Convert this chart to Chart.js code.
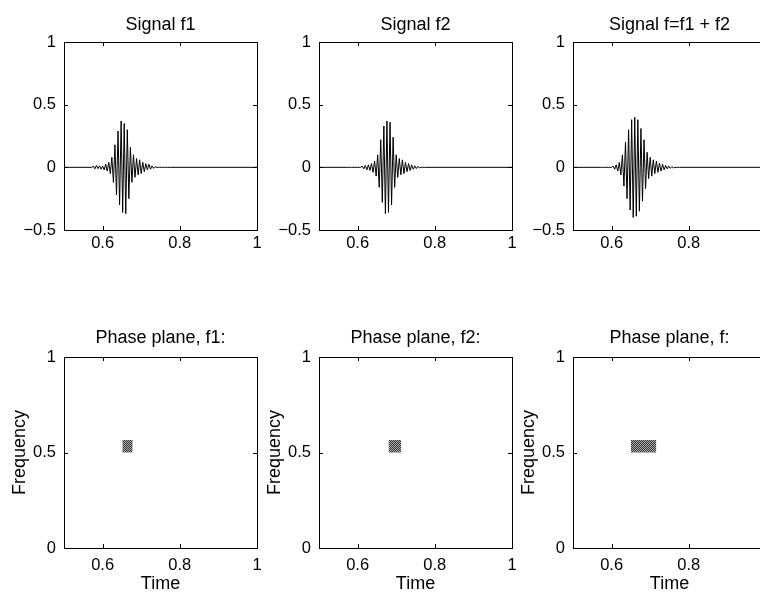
<!DOCTYPE html>
<html>
<head>
<meta charset="utf-8">
<script src="https://cdn.jsdelivr.net/npm/chart.js@4.4.1/dist/chart.umd.min.js"></script>
<style>
  html, body { margin: 0; padding: 0; background: #fff; }
  body { position: relative; width: 760px; height: 596px; overflow: hidden; }
  canvas { position: absolute; }
</style>
</head>
<body>
<canvas id="sig1"></canvas>
<canvas id="sig2"></canvas>
<canvas id="sig3"></canvas>
<canvas id="fase1"></canvas>
<canvas id="fase2"></canvas>
<canvas id="fase3"></canvas>
<script>
// Datos
const tiempo = [0.5,
  0.572, 0.576, 0.580, 0.584, 0.588, 0.592, 0.596, 0.600, 0.604, 0.608,
  0.612, 0.616, 0.620, 0.624, 0.628, 0.632, 0.636, 0.640, 0.644, 0.648,
  0.652, 0.656, 0.660, 0.664, 0.668, 0.672, 0.676, 0.680, 0.684, 0.688,
  0.692, 0.696, 0.700, 0.704, 0.708, 0.712, 0.716, 0.720, 0.724, 0.728,
  0.732, 0.736, 0.740, 0.744, 0.748, 0.752, 0.756, 0.760, 0.764, 0.768,
  0.772, 0.776,
  1.0];

const senalF1 = [0,
  0, 0.01, -0.012, 0.015, -0.01, 0.012, -0.015, 0.01, -0.02, 0.025,
  -0.03, 0.04, -0.05, 0.08, -0.12, 0.18, -0.22, 0.29, -0.30, 0.37,
  -0.36, 0.35, -0.37, 0.30, -0.25, 0.16, -0.12, 0.10, -0.08, 0.07,
  -0.06, 0.06, -0.05, 0.04, -0.035, 0.03, -0.02, 0.025, -0.015, 0.012,
  -0.008, 0.005, 0, 0, 0, 0, 0, 0, 0, 0,
  0, 0,
  0];

const senalF2 = [0,
  0, 0, 0, 0, 0, 0, 0, 0, 0, 0,
  0.01, -0.012, 0.015, -0.02, 0.02, -0.025, 0.03, -0.04, 0.05, -0.07,
  0.10, -0.16, 0.22, -0.28, 0.33, -0.37, 0.37, -0.36, 0.36, -0.30,
  0.24, -0.16, 0.10, -0.08, 0.07, -0.06, 0.06, -0.05, 0.04, -0.035,
  0.03, -0.025, 0.02, -0.015, 0.012, -0.01, 0.008, -0.005, 0, 0,
  0, 0,
  0];

const senalF = [0,
  0, 0, 0, 0, 0, 0, 0, 0, 0.01, -0.015,
  0.02, -0.03, 0.04, -0.06, 0.10, -0.15, 0.20, -0.25, 0.30, -0.34,
  0.38, -0.40, 0.40, -0.39, 0.38, -0.35, 0.31, -0.27, 0.22, -0.17,
  0.12, -0.09, 0.08, -0.07, 0.06, -0.05, 0.05, -0.04, 0.035, -0.03,
  0.025, -0.02, 0.015, -0.012, 0.01, -0.008, 0.006, -0.004, 0, 0,
  0, 0,
  0];

// celdas del plano de fase [inicio, fin] en tiempo
const celdaF1 = [0.651, 0.678];
const celdaF2 = [0.680, 0.713];
const celdaF = [0.650, 0.716];
const celdaFrecuencia = [0.50, 0.565];

const ticksTiempo = [0.6, 0.8, 1];
const ticksSenal = [-0.5, 0, 0.5, 1];
const ticksFrecuencia = [0, 0.5, 1];

const FUENTE = '"Liberation Sans", Arial, Helvetica, sans-serif';

function formato(v) {
  return v < 0 ? '\u2212' + Math.abs(v) : String(v);
}

// textura gris tramada como en la impresion
function crearTrama() {
  const c = document.createElement('canvas');
  c.width = 2; c.height = 2;
  const g = c.getContext('2d');
  g.fillStyle = '#a8a8a8';
  g.fillRect(0, 0, 2, 2);
  g.fillStyle = '#383838';
  g.fillRect(0, 0, 1, 1);
  g.fillRect(1, 1, 1, 1);
  return g.createPattern(c, 'repeat');
}

// marco completo con marcas hacia dentro (estilo MATLAB)
const marcoPlugin = {
  id: 'marco',
  afterDatasetsDraw(chart) {
    const { ctx, chartArea: a, scales: { x, y } } = chart;
    ctx.save();
    ctx.strokeStyle = '#000';
    ctx.lineWidth = 1;
    ctx.strokeRect(Math.round(a.left) + 0.5, Math.round(a.top) + 0.5,
      Math.round(a.width), Math.round(a.height));
    ctx.beginPath();
    x.ticks.forEach(t => {
      const px = Math.round(x.getPixelForValue(t.value)) + 0.5;
      ctx.moveTo(px, a.bottom); ctx.lineTo(px, a.bottom - 4);
      ctx.moveTo(px, a.top); ctx.lineTo(px, a.top + 4);
    });
    y.ticks.forEach(t => {
      const py = Math.round(y.getPixelForValue(t.value)) + 0.5;
      ctx.moveTo(a.left, py); ctx.lineTo(a.left + 4, py);
      ctx.moveTo(a.right, py); ctx.lineTo(a.right - 4, py);
    });
    ctx.stroke();
    ctx.restore();
  }
};

function crearPanel(id, izquierda, arriba, titulo, datasets, yMin, yTicks, abajo) {
  const canvas = document.getElementById(id);
  canvas.width = 271;
  canvas.height = abajo ? 296 : 262;
  canvas.style.left = izquierda + 'px';
  canvas.style.top = arriba + 'px';

  const fuenteTicks = { family: FUENTE, size: 16.5 };
  const fuenteTitulo = { family: FUENTE, size: 18, weight: 'normal', lineHeight: 1.2 };

  return new Chart(canvas.getContext('2d'), {
    type: 'line',
    data: { datasets },
    options: {
      responsive: false,
      animation: false,
      events: [],
      layout: { padding: { top: abajo ? 27.5 : 14.5, right: 14, bottom: 0, left: 0 } },
      plugins: {
        legend: { display: false },
        tooltip: { enabled: false },
        title: {
          display: true, text: titulo, color: '#000', font: fuenteTitulo,
          fullSize: false,
          padding: { top: 0, bottom: abajo ? 7.9 : 5.9 }
        }
      },
      scales: {
        x: {
          type: 'linear', min: 0.5, max: 1,
          grid: { display: false }, border: { display: false },
          afterBuildTicks: s => { s.ticks = ticksTiempo.map(v => ({ value: v })); },
          afterFit: s => { s.height = abajo ? 48 : 32; },
          ticks: { color: '#000', font: fuenteTicks, padding: abajo ? 0 : -4, maxRotation: 0, autoSkip: false, callback: formato },
          title: { display: abajo, text: 'Time', color: '#000', font: fuenteTitulo, padding: { top: 0, bottom: 1.5 } }
        },
        y: {
          type: 'linear', min: yMin, max: 1,
          grid: { display: false }, border: { display: false },
          afterBuildTicks: s => { s.ticks = yTicks.map(v => ({ value: v })); },
          afterFit: s => { s.width = 64; },
          ticks: { color: '#000', font: fuenteTicks, padding: 0, autoSkip: false, callback: formato },
          title: { display: abajo, text: 'Frequency', color: '#000', font: fuenteTitulo, padding: { top: 9.7, bottom: 0 } }
        }
      }
    },
    plugins: [marcoPlugin]
  });
}

function serie(valores) {
  return [{
    data: tiempo.map((t, i) => ({ x: t, y: valores[i] })),
    borderColor: '#000', borderWidth: 1, pointRadius: 0, tension: 0, fill: false
  }];
}

function celda(rango, trama) {
  return [
    {
      data: [{ x: rango[0], y: celdaFrecuencia[1] }, { x: rango[1], y: celdaFrecuencia[1] }],
      borderWidth: 0, pointRadius: 0, fill: '+1', backgroundColor: trama
    },
    {
      data: [{ x: rango[0], y: celdaFrecuencia[0] }, { x: rango[1], y: celdaFrecuencia[0] }],
      borderWidth: 0, pointRadius: 0, fill: false
    }
  ];
}

document.addEventListener('DOMContentLoaded', () => {
  const trama = crearTrama();
  crearPanel('sig1', 0, 0, 'Signal f1', serie(senalF1), -0.5, ticksSenal, false);
  crearPanel('sig2', 255, 0, 'Signal f2', serie(senalF2), -0.5, ticksSenal, false);
  crearPanel('sig3', 509, 0, 'Signal f=f1 + f2', serie(senalF), -0.5, ticksSenal, false);
  crearPanel('fase1', 0, 300, 'Phase plane, f1:', celda(celdaF1, trama), 0, ticksFrecuencia, true);
  crearPanel('fase2', 255, 300, 'Phase plane, f2:', celda(celdaF2, trama), 0, ticksFrecuencia, true);
  crearPanel('fase3', 509, 300, 'Phase plane, f:', celda(celdaF, trama), 0, ticksFrecuencia, true);
});
</script>
</body>
</html>
